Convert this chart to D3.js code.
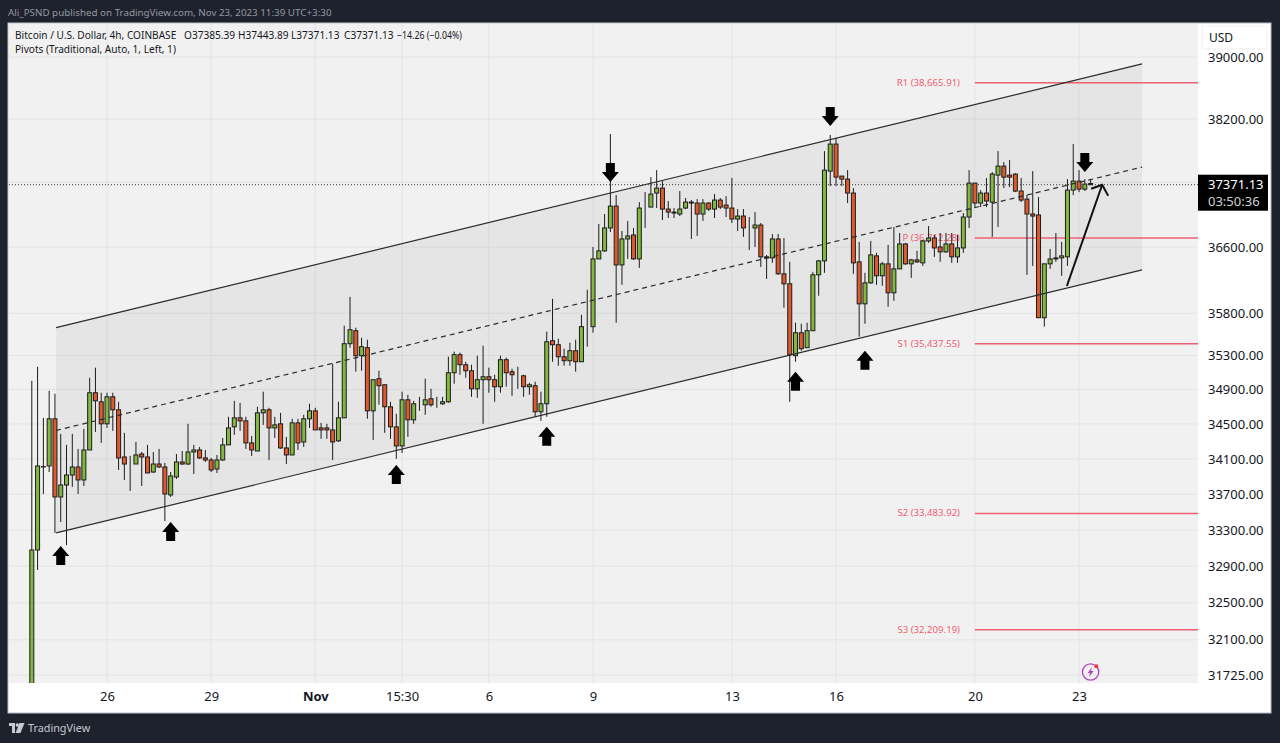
<!DOCTYPE html>
<html>
<head>
<meta charset="utf-8">
<script src="https://cdn.jsdelivr.net/npm/d3@7/dist/d3.min.js"></script>
<style>
  html, body { margin: 0; padding: 0; background: #1e222d; }
  svg { display: block; }
  text { font-family: "Noto Sans", "Open Sans", sans-serif; }
</style>
</head>
<body>
<svg id="chart" width="1280" height="743"></svg>
<script>
// OHLC, one entry per 4h bar
var opens = [31566,33078,34008,34020,34560,33669,33804,33917,34008,33861,34202,34862,34757,34502,34815,34664,34122,34042,34042,34156,34122,33951,34042,34008,33692,33895,34065,34042,34179,34202,34111,34088,33985,34088,34260,34467,34571,34536,34283,34190,34629,34664,34455,34502,34225,34145,34513,34294,34560,34652,34455,34455,34432,34306,34571,35438,35592,35296,35391,34652,35026,34955,34699,34467,34248,34780,34548,34734,34722,34792,34734,34734,34757,35096,35308,35190,35119,34908,35014,35049,35014,34932,35249,35108,35060,35060,34932,34944,34641,34734,35473,35426,35284,35237,35355,35225,35640,35640,36456,36554,36835,37105,36383,36700,36749,36456,37093,37093,37267,37329,37068,37031,37007,37081,37155,37143,37007,37143,37068,37180,37118,37081,36945,36982,36847,36835,36871,36481,36469,36700,36275,36154,35296,35568,35391,35592,36263,36432,37541,37882,37479,37441,37267,36420,35913,36166,36493,36251,36396,36046,36335,36639,36396,36444,36408,36676,36712,36602,36542,36639,36481,36590,36970,37391,37143,37267,37155,37491,37604,37491,37504,37292,37192,37007,36995,35747,36396,36456,36469,36481,37304,37416,37316,37385.39];
var highs = [35002,35166,34571,34885,34850,34386,34260,34386,34214,34444,35037,35155,34862,34862,34862,34757,34398,34134,34294,34179,34260,34179,34214,34054,33951,34156,34190,34502,34260,34237,34202,34111,34145,34340,34583,34768,34745,34583,34363,34699,34874,34687,34583,34629,34352,34560,34560,34606,34734,34687,34513,34502,35202,34757,35652,35997,35628,35509,35485,35014,35119,34955,34757,34618,34874,34838,34768,34815,35026,34908,34815,34815,35284,35344,35332,35225,35190,35296,35414,35155,35072,35296,35273,35143,35166,35072,34979,34991,34874,35580,35973,35497,35379,35450,35485,35782,36082,36602,36884,37007,38009,37242,36798,36921,36835,37155,37279,37466,37554,37416,37168,37081,37292,37205,37180,37192,37192,37155,37254,37205,37229,37454,37068,37068,36970,37031,36896,36505,36761,36761,36712,36420,35687,35675,35687,36299,36444,37793,37997,37958,37479,37554,37329,36664,36287,36676,36530,36420,36627,36847,36773,36651,36456,36554,36688,36859,36749,36773,36773,36773,36749,37019,37554,37391,37304,37454,37529,37793,37655,37680,37516,37454,37242,37541,37217,36396,36578,36773,36664,37441,37882,37554,37441,37443.89];
var lows = [31566,32858,33703,33951,33267,33389,33133,33782,33703,33793,34202,34409,34283,34455,34421,33974,33861,33737,34042,33793,33940,33940,33997,33400,33669,33872,34031,34031,33929,34100,34065,33951,33940,34077,34260,34375,34421,34214,34134,34190,34490,34088,34340,34214,34042,34145,34202,34237,34455,34432,34329,34329,34088,34294,34571,35391,35108,35119,34560,34317,34722,34398,34329,34100,34168,34352,34502,34652,34606,34699,34687,34722,34745,34967,35072,35037,34815,34803,34502,34862,34757,34862,34932,34827,34908,34815,34838,34583,34536,34583,35225,35178,35178,35178,35108,35225,35402,35568,36456,36542,36785,35687,36142,36456,36444,36347,36835,37093,37081,36933,36958,36958,36982,37068,36700,36737,36921,37044,36958,37068,36970,36896,36798,36725,36566,36602,36359,36214,36408,36263,35866,34757,35225,35355,35391,35592,36010,36287,37354,37354,37354,37143,36275,35521,35675,36154,36142,36130,35878,35949,36335,36383,36226,36408,36371,36651,36481,36420,36530,36408,36408,36530,36835,37081,37093,37093,36725,36847,37329,37341,37279,37155,36263,36371,35747,35640,36335,36420,36251,36371,37242,37279,37292,37371.13];
var closes = [33078,34020,34012,34560,33669,33804,33917,34008,33861,34202,34862,34768,34502,34815,34664,34111,34042,34042,34145,34122,33940,34042,34008,33703,33906,34065,34042,34179,34202,34111,34088,33974,34088,34260,34455,34571,34536,34283,34202,34629,34664,34455,34490,34225,34145,34513,34283,34560,34652,34432,34432,34432,34294,34571,35438,35604,35296,35402,34652,35014,34944,34699,34467,34248,34780,34548,34734,34734,34780,34722,34734,34757,35096,35308,35190,35119,34908,35014,35049,35014,34932,35249,35096,35072,35060,34932,34955,34641,34734,35461,35426,35284,35237,35355,35225,35640,35640,36456,36554,36835,37105,36383,36700,36737,36456,37081,37093,37254,37329,37068,37031,37019,37068,37155,37143,37007,37143,37068,37180,37093,37081,36945,36982,36835,36847,36871,36481,36469,36700,36275,36154,35308,35568,35379,35592,36263,36432,37554,37882,37466,37441,37267,36408,35913,36166,36505,36251,36396,36046,36335,36639,36396,36444,36420,36676,36712,36590,36542,36639,36481,36590,36970,37391,37143,37267,37168,37504,37604,37466,37466,37292,37180,37007,36982,35747,36396,36456,36469,36493,37304,37416,37316,37379,37371.13];

var tickLabels = ["26", "29", "Nov", "15:30", "6", "9", "13", "16", "20", "23"];
var tickBars = [13, 31, 49, 64, 79, 97, 121, 139, 163, 181];
var boldTicks = ["Nov"];

var priceTicks = [39000, 38200, 36600, 35800, 35300, 34900, 34500, 34100, 33700, 33300, 32900, 32500, 32100, 31725];
var gridPrices = [39000, 38200, 37400, 36600, 35800, 35300, 34900, 34500, 34100, 33700, 33300, 32900, 32500, 32100, 31725];

var pivotNames = ["R1", "P", "S1", "S2", "S3"];
var pivotValues = [38665.91, 36712.28, 35437.55, 33483.92, 32209.19];
var pivotStartBar = 163;

// channel ends: bar, upper, median, lower
var channelBars = [4.2, 191.9];
var channelUpper = [35628, 38910];
var channelMedian = [34426, 37592];
var channelLower = [33267, 36323];

var upBars = [5, 24, 63, 89, 132, 144];
var upPrices = [33122, 33389, 34031, 34467, 35108, 35355];
var downBars = [100, 138, 182];
var downPrices = [37404, 38112, 37529];

var trendBars = [178.9, 185];
var trendPrices = [36128, 37371];
var lastPrice = 37371.13;

var legendParts = ["Bitcoin / U.S. Dollar, 4h, COINBASE", "O37385.39", "H37443.89", "L37371.13", "C37371.13", "\u221214.26 (\u22120.04%)"];
var legendX = [15, 184, 238, 291, 344, 397];

var width = 1280, height = 743;
var plotLeft = 9, plotRight = 1198, plotTop = 24, plotBottom = 683;

var x = d3.scaleLinear().domain([0, 183]).range([31.8, 1090.6]);
var y = d3.scaleLog().domain([31725, 39000]).range([675, 57]);

var svg = d3.select("#chart");

svg.append("rect").attr("width", width).attr("height", height).attr("fill", "#1e222d");
svg.append("rect").attr("x", 8).attr("y", 23).attr("width", 1263).attr("height", 690)
  .attr("fill", "#ffffff").attr("stroke", "#b8bbc4").attr("stroke-width", 1);
svg.append("rect").attr("x", plotLeft).attr("y", plotTop)
  .attr("width", plotRight - plotLeft).attr("height", plotBottom - plotTop).attr("fill", "#f1f1f1");

svg.append("text").attr("x", 8).attr("y", 16).attr("fill", "#9598a1").attr("font-size", 9.8)
  .text("Ali_PSND published on TradingView.com, Nov 23, 2023 11:39 UTC+3:30");

var defs = svg.append("defs");
defs.append("clipPath").attr("id", "plot-clip").append("rect")
  .attr("x", plotLeft).attr("y", plotTop).attr("width", plotRight - plotLeft).attr("height", plotBottom - plotTop);

var plot = svg.append("g").attr("clip-path", "url(#plot-clip)");

// grid
plot.selectAll("line.gy").data(gridPrices).enter().append("line")
  .attr("class", "gy")
  .attr("x1", plotLeft).attr("x2", plotRight)
  .attr("y1", function(d) { return y(d); }).attr("y2", function(d) { return y(d); })
  .attr("stroke", "#e4e4e4");
plot.selectAll("line.gx").data(tickBars).enter().append("line")
  .attr("class", "gx")
  .attr("x1", function(d) { return x(d); }).attr("x2", function(d) { return x(d); })
  .attr("y1", plotTop).attr("y2", plotBottom)
  .attr("stroke", "#e4e4e4");

// channel fill
plot.append("path")
  .attr("d", d3.area()
    .x(function(d) { return x(d); })
    .y0(function(d, i) { return y(channelLower[i]); })
    .y1(function(d, i) { return y(channelUpper[i]); })(channelBars))
  .attr("fill", "#8a8a8a").attr("fill-opacity", 0.11);

// pivots
plot.selectAll("line.pivot").data(pivotValues).enter().append("line")
  .attr("class", "pivot")
  .attr("x1", x(pivotStartBar)).attr("x2", plotRight)
  .attr("y1", function(d) { return y(d); }).attr("y2", function(d) { return y(d); })
  .attr("stroke", "#ef5f73").attr("stroke-width", 1.5);
plot.selectAll("text.pivot").data(pivotValues).enter().append("text")
  .attr("class", "pivot")
  .attr("x", 960)
  .attr("y", function(d) { return y(d) + 3; })
  .attr("text-anchor", "end").attr("font-size", 9.6).attr("fill", "#ef5f73")
  .text(function(d, i) { return pivotNames[i] + " (" + d3.format(",.2f")(d) + ")"; });

// last price dotted line
plot.append("line")
  .attr("x1", plotLeft).attr("x2", plotRight)
  .attr("y1", y(lastPrice)).attr("y2", y(lastPrice))
  .attr("stroke", "#333").attr("stroke-dasharray", "1 2");

// candles
var bars = plot.selectAll("g.bar").data(d3.range(opens.length)).enter().append("g").attr("class", "bar");
bars.append("line")
  .attr("x1", function(d) { return x(d); }).attr("x2", function(d) { return x(d); })
  .attr("y1", function(d) { return y(highs[d]); }).attr("y2", function(d) { return y(lows[d]); })
  .attr("stroke", "#1c1c1c").attr("stroke-width", 1);
bars.append("rect")
  .attr("x", function(d) { return x(d) - 2; })
  .attr("width", 4)
  .attr("y", function(d) { return y(Math.max(opens[d], closes[d])); })
  .attr("height", function(d) { return Math.abs(y(opens[d]) - y(closes[d])); })
  .attr("fill", function(d) { return closes[d] >= opens[d] ? "#83b83f" : "#e0592a"; })
  .attr("stroke", "#1c1c1c").attr("stroke-width", 1);

// channel lines
function channelLine(values, dash) {
  plot.append("path")
    .attr("d", d3.line().x(function(d) { return x(d); }).y(function(d, i) { return y(values[i]); })(channelBars))
    .attr("fill", "none").attr("stroke", "#2b2b2b").attr("stroke-width", 1.2)
    .attr("stroke-dasharray", dash);
}
channelLine(channelUpper, null);
channelLine(channelMedian, "5 4");
channelLine(channelLower, null);

// block arrows, drawn from the tip
function blockArrow(dir) {
  var p = d3.path();
  p.moveTo(0, 0);
  p.lineTo(8.5 , -10 * dir);
  p.lineTo(4.5, -10 * dir);
  p.lineTo(4.5, -19 * dir);
  p.lineTo(-4.5, -19 * dir);
  p.lineTo(-4.5, -10 * dir);
  p.lineTo(-8.5, -10 * dir);
  p.closePath();
  return p.toString();
}
plot.selectAll("path.up").data(upBars).enter().append("path")
  .attr("class", "up")
  .attr("d", blockArrow(-1))
  .attr("transform", function(d, i) { return "translate(" + x(d) + "," + y(upPrices[i]) + ")"; })
  .attr("fill", "#000");
plot.selectAll("path.down").data(downBars).enter().append("path")
  .attr("class", "down")
  .attr("d", blockArrow(1))
  .attr("transform", function(d, i) { return "translate(" + x(d) + "," + y(downPrices[i]) + ")"; })
  .attr("fill", "#000");

// trend arrow
var tx = x(trendBars[1]), ty = y(trendPrices[1]);
plot.append("path")
  .attr("d", d3.line()([[x(trendBars[0]), y(trendPrices[0])], [tx, ty]]))
  .attr("stroke", "#111").attr("stroke-width", 2).attr("fill", "none");
plot.append("path")
  .attr("d", d3.line()([[tx - 11, ty + 4], [tx, ty], [tx + 6, ty + 11]]))
  .attr("stroke", "#111").attr("stroke-width", 2).attr("fill", "none");

// lightning badge
var badge = plot.append("g").attr("transform", "translate(" + x(183) + ",672)");
badge.append("circle").attr("r", 8.2).attr("fill", "none").attr("stroke", "#ab47bc").attr("stroke-width", 1.3);
badge.append("path").attr("d", "M1.5,-5 L-3,1 L-0.5,1 L-1.5,5 L3,-1 L0.5,-1 Z").attr("fill", "#ab47bc");
badge.append("circle").attr("cx", 5.7).attr("cy", -5.7).attr("r", 2).attr("fill", "#f23645");

// time axis
var timeAxis = d3.axisBottom(x).tickValues(tickBars).tickSize(0).tickPadding(0)
  .tickFormat(function(d, i) { return tickLabels[i]; });
var timeG = svg.append("g").attr("transform", "translate(0," + plotBottom + ")").call(timeAxis);
timeG.select(".domain").remove();
timeG.selectAll("text").attr("y", 9).attr("font-size", 13).attr("fill", "#131722")
  .attr("font-weight", function(d, i) { return boldTicks.indexOf(tickLabels[i]) >= 0 ? 700 : 400; })
  .style("font-family", '"Noto Sans", sans-serif');

// price axis
var priceAxis = d3.axisRight(y).tickValues(priceTicks).tickSize(0).tickPadding(0)
  .tickFormat(d3.format(".2f"));
var priceG = svg.append("g").attr("transform", "translate(1208,0)").call(priceAxis);
priceG.select(".domain").remove();
priceG.selectAll("text").attr("font-size", 13).attr("fill", "#131722")
  .style("font-family", '"Noto Sans", sans-serif');

// currency box
svg.append("rect").attr("x", 1202).attr("y", 26).attr("width", 65).attr("height", 23).attr("rx", 2)
  .attr("fill", "#fff").attr("stroke", "#f0f0f3");
svg.append("text").attr("x", 1209).attr("y", 42).attr("font-size", 12).attr("fill", "#131722").text("USD");

// price tag
var tagY = y(lastPrice) - 10;
svg.append("rect").attr("x", plotRight).attr("y", tagY).attr("width", 70).attr("height", 36).attr("fill", "#000");
svg.append("text").attr("x", 1208).attr("y", tagY + 14).attr("font-size", 13).attr("fill", "#fff").text(d3.format(".2f")(lastPrice));
svg.append("text").attr("x", 1208).attr("y", tagY + 31).attr("font-size", 13).attr("fill", "#d0d0d0").text("03:50:36");

// legend
svg.selectAll("text.legend").data(legendParts).enter().append("text")
  .attr("class", "legend")
  .attr("x", function(d, i) { return legendX[i]; })
  .attr("y", 39).attr("font-size", 10.1).attr("fill", "#131722")
  .attr("textLength", function(d, i) { return i == 5 ? 65 : null; })
  .attr("lengthAdjust", "spacingAndGlyphs")
  .text(function(d) { return d; });
svg.append("text").attr("x", 15).attr("y", 53).attr("font-size", 10.1).attr("fill", "#131722")
  .text("Pivots (Traditional, Auto, 1, Left, 1)");

// footer logo
var logo = svg.append("g").attr("transform", "translate(9,723)").attr("fill", "#c8cad0");
logo.append("path").attr("d", "M0,0 H6 V10 H3 V3 H0 Z");
logo.append("circle").attr("cx", 8.3).attr("cy", 2).attr("r", 1.7);
logo.append("path").attr("d", "M10.5,0 H15.5 L11.5,10 H6.5 Z");
svg.append("text").attr("x", 28).attr("y", 732).attr("font-size", 10.8).attr("fill", "#c8cad0").text("TradingView");
</script>
</body>
</html>
